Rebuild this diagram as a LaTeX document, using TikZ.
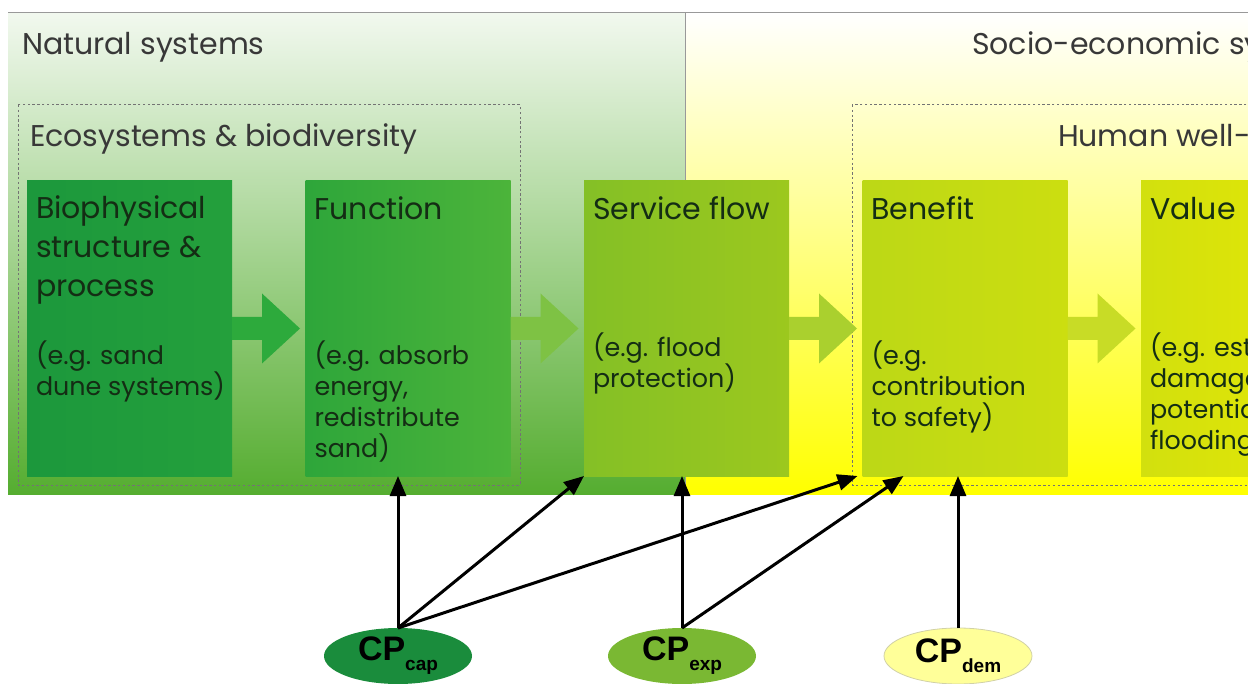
\documentclass[tikz,border=0pt]{standalone}
\usepackage{fontspec}
\setmainfont{Poppins}
\newfontfamily\cpfont{Liberation Sans}
\usetikzlibrary{positioning,calc,shapes.geometric,arrows.meta}

\definecolor{natbottom}{HTML}{55AD30}
\definecolor{socbottom}{HTML}{FFFF00}
\definecolor{boxtext}{HTML}{142D14}
\definecolor{bioA}{HTML}{1C983C}
\definecolor{bioB}{HTML}{24A03C}
\definecolor{funA}{HTML}{2EA63A}
\definecolor{funB}{HTML}{4CB43A}
\definecolor{svcA}{HTML}{84C026}
\definecolor{svcB}{HTML}{9CC81E}
\definecolor{benA}{HTML}{BCD816}
\definecolor{benB}{HTML}{CCDE10}
\definecolor{valA}{HTML}{D2E00E}
\definecolor{valB}{HTML}{E6E804}
\definecolor{arrA}{HTML}{2DAA3C}
\definecolor{arrB}{HTML}{7EC244}
\definecolor{arrC}{HTML}{AAD02E}
\definecolor{arrD}{HTML}{C8DC26}
\definecolor{cpcap}{HTML}{1A8C3C}
\definecolor{cpexp}{HTML}{7AB833}
\definecolor{cpdem}{HTML}{FFFF99}

% block arrow from the east side of a box
\newcommand{\stagearrow}[2]{%
  \fill[#2] ($(#1.east)+(0,-11.5)$) -- ++(30,0) -- ++(0,-23.5)
    -- ($(#1.east)+(68,0)$) -- ($(#1.east)+(30,35)$) -- ++(0,-23.5)
    -- ($(#1.east)+(0,11.5)$) -- cycle;}

\begin{document}
\begin{tikzpicture}[
  x=0.5pt, y=-0.5pt,
  node distance=36.75pt,
  every node/.style={inner sep=0pt, outer sep=0pt},
  stage/.style={minimum width=102.5pt, minimum height=147.5pt, anchor=north west},
  head/.style={anchor=north west, align=left,
    font=\fontsize{15}{19.3}\selectfont, text=boxtext,
    execute at begin node=\rule{0pt}{12pt}},
  eg/.style={anchor=north west, align=left,
    font=\fontsize{12.7}{15.5}\selectfont, text=boxtext,
    execute at begin node=\rule{0pt}{11pt}},
  region/.style={anchor=base west, font=\fontsize{15}{18}\selectfont, text=black!78},
  frame/.style={draw=black!55, line width=0.5pt, dash pattern=on 1.2pt off 1.2pt},
  flow/.style={draw=black, line width=1.5pt, -{Triangle[length=10pt,width=8pt]}},
  cp/.style={ellipse, minimum width=74pt, minimum height=28pt,
    font=\cpfont\bfseries\fontsize{17}{17}\selectfont}]
  \useasboundingbox (0,0) rectangle (1248,684);
  \clip (0,0) rectangle (1248,684);

  % backgrounds
  \shade[top color=natbottom!8, bottom color=natbottom] (8,13) rectangle (685,494);
  \shade[top color=white, bottom color=socbottom] (685,13) rectangle (1262,494);
  \draw[black!40, line width=0.5pt] (8,13) -- (1262,13);
  \draw[black!40, line width=0.5pt] (685,13) -- (685,494);

  \node[region] (nat) at (22,55) {Natural systems};
  \node[region] (soc) at (972,55) {Socio-economic systems};
  \draw[frame] (18,105) rectangle (520,485);
  \draw[frame] (852,105) rectangle (1262,485);
  \node[region] (eco) at (30,147) {Ecosystems \& biodiversity};
  \node[region] (hwb) at (1058,147) {Human well-being};

  % stages
  \node[stage, left color=bioA, right color=bioB] (bio) at (27,181) {};
  \node[stage, right=of bio, left color=funA, right color=funB] (fun) {};
  \node[stage, right=of fun, left color=svcA, right color=svcB] (svc) {};
  \node[stage, right=of svc, left color=benA, right color=benB] (ben) {};
  \node[stage, right=of ben, left color=valA, right color=valB] (val) {};

  \stagearrow{bio}{arrA}
  \stagearrow{fun}{arrB}
  \stagearrow{svc}{arrC}
  \stagearrow{ben}{arrD}

  \node[head] (bio-t) at ($(bio.north west)+(9,15)$) {Biophysical\\structure \&\\process};
  \node[eg] (bio-e) at ($(bio.north west)+(9,160)$) {(e.g. sand\\dune systems)};
  \node[head] (fun-t) at ($(fun.north west)+(9,15)$) {Function};
  \node[eg] (fun-e) at ($(fun.north west)+(9,160)$) {(e.g. absorb\\energy,\\redistribute\\sand)};
  \node[head] (svc-t) at ($(svc.north west)+(9,15)$) {Service flow};
  \node[eg] (svc-e) at ($(svc.north west)+(9,152)$) {(e.g. flood\\protection)};
  \node[head] (ben-t) at ($(ben.north west)+(9,15)$) {Benefit};
  \node[eg] (ben-e) at ($(ben.north west)+(9,160)$) {(e.g.\\contribution\\to safety)};
  \node[head] (val-t) at ($(val.north west)+(9,15)$) {Value};
  \node[eg] (val-e) at ($(val.north west)+(9,152)$) {(e.g. estimated\\damage\\potential of\\flooding)};

  % capacity, exposure, demand
  \node[cp, fill=cpcap] (cap) at (398,656) {CP\raisebox{-5pt}{\fontsize{9.5}{10}\selectfont cap}};
  \node[cp, fill=cpexp] (exp) at (682,656) {CP\raisebox{-5pt}{\fontsize{9.5}{10}\selectfont exp}};
  \node[cp, fill=cpdem, draw=cpdem!70!black!60, line width=0.4pt] (dem) at (958,656)
    {CP\raisebox{-5pt}{\fontsize{9.5}{10}\selectfont dem}};

  \draw[flow] (cap.north) -- (cap.north |- fun.south);
  \draw[flow] (cap.north) -- (svc.south west);
  \draw[flow] (cap.north) -- ($(ben.south west)+(-5,0)$);
  \draw[flow] (exp.north) -- (exp.north |- svc.south);
  \draw[flow] (exp.north) -- ($(ben.south west)+(41,0)$);
  \draw[flow] (dem.north) -- (dem.north |- ben.south);
\end{tikzpicture}
\end{document}
